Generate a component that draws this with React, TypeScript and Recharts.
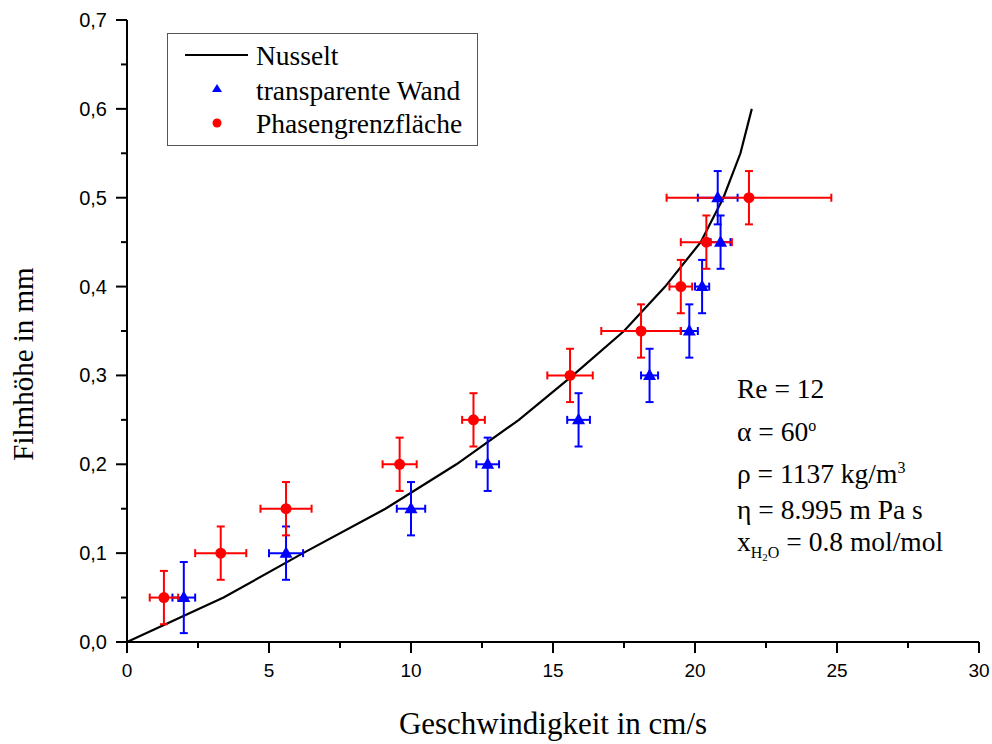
import React from "react";
import { ComposedChart, Line, Scatter, ErrorBar, XAxis, YAxis } from "recharts";

// Nusselt curve
const nusseltX = [0, 3.4, 6.2, 9.1, 11.6, 13.8, 15.7, 17.5, 18.95, 20.2, 21.0, 21.6, 22.0];
const nusseltY = [0, 0.05, 0.1, 0.15, 0.2, 0.25, 0.3, 0.35, 0.4, 0.45, 0.5, 0.55, 0.6];

// transparente Wand (blue triangles)
const wallX = [2.0, 5.6, 10.0, 12.7, 15.9, 18.4, 19.8, 20.25, 20.9, 20.8];
const wallY = [0.05, 0.1, 0.15, 0.2, 0.25, 0.3, 0.35, 0.4, 0.45, 0.5];
const wallXErr = [0.4, 0.6, 0.5, 0.4, 0.4, 0.3, 0.3, 0.25, 0.35, 0.7];
const wallYErr = [0.04, 0.03, 0.03, 0.03, 0.03, 0.03, 0.03, 0.03, 0.03, 0.03];

// Phasengrenzfläche (red circles)
const ifaceX = [1.3, 3.3, 5.6, 9.6, 12.2, 15.6, 18.1, 19.5, 20.4, 21.9];
const ifaceY = [0.05, 0.1, 0.15, 0.2, 0.25, 0.3, 0.35, 0.4, 0.45, 0.5];
const ifaceXErr = [0.5, 0.9, 0.9, 0.6, 0.4, 0.8, 1.4, 0.4, 0.9, 2.9];
const ifaceYErr = [0.03, 0.03, 0.03, 0.03, 0.03, 0.03, 0.03, 0.03, 0.03, 0.03];

const xTicks = [0, 2.5, 5, 7.5, 10, 12.5, 15, 17.5, 20, 22.5, 25, 27.5, 30];
const yTicks = [0, 0.05, 0.1, 0.15, 0.2, 0.25, 0.3, 0.35, 0.4, 0.45, 0.5, 0.55, 0.6, 0.65, 0.7];

const nusselt = nusseltX.map((x, i) => ({ x, y: nusseltY[i] }));
const wall = wallX.map((x, i) => ({ x, y: wallY[i], ex: wallXErr[i], ey: wallYErr[i] }));
const iface = ifaceX.map((x, i) => ({ x, y: ifaceY[i], ex: ifaceXErr[i], ey: ifaceYErr[i] }));

const BLUE = "#0000ff";
const RED = "#ff0000";
const SERIF = "'Liberation Serif', 'Times New Roman', serif";
const SANS = "'Liberation Sans', Arial, sans-serif";

const XTick = (props: any) => {
  const { x, y, payload, index } = props;
  const major = index % 2 === 0;
  return (
    <g>
      <line x1={x} x2={x} y1={y} y2={y + (major ? 11 : 6)} stroke="#000" strokeWidth={2} />
      {major && (
        <text x={x} y={y + 35} textAnchor="middle" fontFamily={SANS} fontSize={19} fill="#000">
          {payload.value}
        </text>
      )}
    </g>
  );
};

const YTick = (props: any) => {
  const { x, y, payload, index } = props;
  const major = index % 2 === 0;
  return (
    <g>
      <line x1={x} x2={x - (major ? 11 : 6)} y1={y} y2={y} stroke="#000" strokeWidth={2} />
      {major && (
        <text x={x - 20} y={y} dy="0.35em" textAnchor="end" fontFamily={SANS} fontSize={20} fill="#000">
          {payload.value.toFixed(1).replace(".", ",")}
        </text>
      )}
    </g>
  );
};

const Triangle = (props: any) => {
  const { cx, cy } = props;
  return <polygon points={`${cx},${cy - 7} ${cx - 6.5},${cy + 4.5} ${cx + 6.5},${cy + 4.5}`} fill={BLUE} />;
};

const Dot = (props: any) => {
  const { cx, cy } = props;
  return <circle cx={cx} cy={cy} r={5.5} fill={RED} />;
};

const LegendBox = () => (
  <svg width={311} height={113} style={{ position: "absolute", left: 167, top: 33, display: "block" }}>
    <rect x={0.5} y={0.5} width={310} height={112} fill="#fff" stroke="#555" />
    <line x1={18} x2={81} y1={22} y2={22} stroke="#000" strokeWidth={2} />
    <text x={89} y={22} dy="0.35em" fontFamily={SERIF} fontSize={27.5}>Nusselt</text>
    <polygon points="50,51 45,59 55,59" fill={BLUE} />
    <text x={89} y={57} dy="0.35em" fontFamily={SERIF} fontSize={27.5}>transparente Wand</text>
    <circle cx={50} cy={90} r={4.5} fill={RED} />
    <text x={89} y={90} dy="0.35em" fontFamily={SERIF} fontSize={27.5}>Phasengrenzfläche</text>
  </svg>
);

const annoStyle: React.CSSProperties = {
  position: "absolute",
  left: 737,
  fontFamily: SERIF,
  fontSize: 27.5,
  lineHeight: "26px",
  whiteSpace: "nowrap",
  color: "#000",
};
const supStyle: React.CSSProperties = { fontSize: 16, verticalAlign: "0.6em", lineHeight: 0 };
const subStyle: React.CSSProperties = { fontSize: 16, verticalAlign: "-0.45em", lineHeight: 0 };

export default function App() {
  return (
    <div style={{ position: "absolute", left: 0, top: 0, width: 992, height: 744, background: "#fff", overflow: "hidden" }}>
      <ComposedChart width={992} height={744} margin={{ top: 20, right: 13, left: 0, bottom: 0 }}>
        <XAxis
          dataKey="x"
          type="number"
          domain={[0, 30]}
          ticks={xTicks}
          interval={0}
          height={102}
          tickSize={0}
          tickMargin={0}
          tickLine={false}
          axisLine={{ stroke: "#000", strokeWidth: 2 }}
          tick={<XTick />}
          label={{
            content: (p: any) => (
              <text
                x={p.viewBox.x + p.viewBox.width / 2}
                y={734}
                textAnchor="middle"
                fontFamily={SERIF}
                fontSize={31}
                fill="#000"
              >
                Geschwindigkeit in cm/s
              </text>
            ),
          }}
        />
        <YAxis
          dataKey="y"
          type="number"
          domain={[0, 0.7]}
          ticks={yTicks}
          interval={0}
          width={127}
          tickSize={0}
          tickMargin={0}
          tickLine={false}
          axisLine={{ stroke: "#000", strokeWidth: 2 }}
          tick={<YTick />}
          label={{
            content: () => (
              <text x={33} y={364} transform="rotate(-90 33 364)" textAnchor="middle" fontFamily={SERIF} fontSize={29} fill="#000">
                Filmhöhe in mm
              </text>
            ),
          }}
        />
        <Line
          data={nusselt}
          dataKey="y"
          name="Nusselt"
          type="linear"
          stroke="#000"
          strokeWidth={2.2}
          dot={false}
          activeDot={false}
          isAnimationActive={false}
        />
        <Scatter data={wall} dataKey="y" name="transparente Wand" shape={<Triangle />} isAnimationActive={false}>
          <ErrorBar dataKey="ex" direction="x" width={4} stroke={BLUE} strokeWidth={2} />
          <ErrorBar dataKey="ey" direction="y" width={4} stroke={BLUE} strokeWidth={2} />
        </Scatter>
        <Scatter data={iface} dataKey="y" name="Phasengrenzfläche" shape={<Dot />} isAnimationActive={false}>
          <ErrorBar dataKey="ex" direction="x" width={4} stroke={RED} strokeWidth={2} />
          <ErrorBar dataKey="ey" direction="y" width={4} stroke={RED} strokeWidth={2} />
        </Scatter>
      </ComposedChart>
      <LegendBox />
      <div style={{ ...annoStyle, top: 376 }}>Re = 12</div>
      <div style={{ ...annoStyle, top: 419 }}>
        α = 60<span style={supStyle}>o</span>
      </div>
      <div style={{ ...annoStyle, top: 461 }}>
        ρ = 1137 kg/m<span style={supStyle}>3</span>
      </div>
      <div style={{ ...annoStyle, top: 497 }}>η = 8.995 m Pa s</div>
      <div style={{ ...annoStyle, top: 529 }}>
        x<span style={subStyle}>
          H<span style={{ fontSize: 11, verticalAlign: "-0.3em" }}>2</span>O
        </span>{" "}
        = 0.8 mol/mol
      </div>
    </div>
  );
}
